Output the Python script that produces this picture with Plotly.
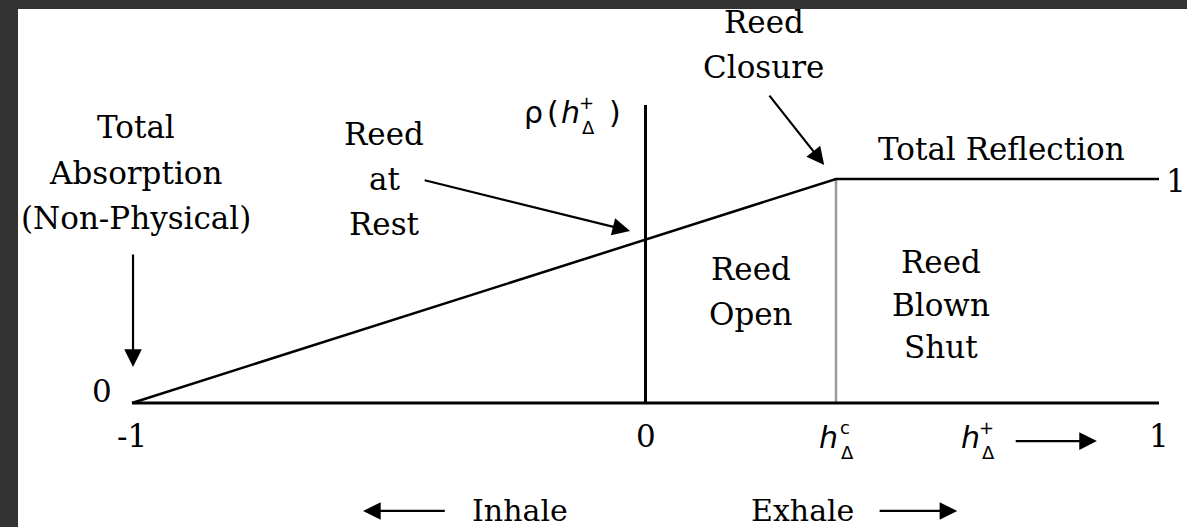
import plotly.graph_objects as go

# Reflection coefficient of the reed versus normalised pressure drop
H_CLOSE = 0.371                     # pressure drop at which the reed closes
RHO_X = [-1.0, H_CLOSE, 1.0]        # breakpoints of rho(h)
RHO_Y = [0.0, 1.0, 1.0]
AXIS_X = [-1.0, 1.0]                # horizontal axis extent
AXIS_Y_TOP = 1.33                   # top of the vertical axis at h = 0
TICK_X = [-1.0, 0.0, 1.0]
TICK_TEXT = ["-1", "0", "1"]

SERIF = "DejaVu Serif"
FS = 31

fig = go.Figure()

# closure boundary (grey)
fig.add_trace(go.Scatter(x=[H_CLOSE, H_CLOSE], y=[0, 1], mode="lines",
                         line=dict(color="#9a9a9a", width=2.5), hoverinfo="skip"))
# axes
fig.add_trace(go.Scatter(x=AXIS_X, y=[0, 0], mode="lines",
                         line=dict(color="black", width=3), hoverinfo="skip"))
fig.add_trace(go.Scatter(x=[0, 0], y=[0, AXIS_Y_TOP], mode="lines",
                         line=dict(color="black", width=3), hoverinfo="skip"))
# rho(h)
fig.add_trace(go.Scatter(x=RHO_X, y=RHO_Y, mode="lines",
                         line=dict(color="black", width=2.5), hoverinfo="skip"))

ann = []


def text(s, x, y, size=FS, family=SERIF, **kw):
    ann.append(dict(text=s, x=x, y=y, xref="x", yref="y", showarrow=False,
                    font=dict(family=family, size=size, color="black"),
                    xanchor="center", yanchor="middle", **kw))


def block(lines, x, y_top, step=0.196):
    for i, s in enumerate(lines):
        text(s, x, y_top - i * step)


def arrow(x0, y0, x1, y1):
    ann.append(dict(text="", x=x1, y=y1, ax=x0, ay=y0, xref="x", yref="y",
                    axref="x", ayref="y", showarrow=True, arrowhead=2,
                    arrowsize=1.6, arrowwidth=2.2, arrowcolor="black"))


# region labels
block(["Total", "Absorption", "(Non-Physical)"], -0.993, 1.232, 0.203)
block(["Reed", "at", "Rest"], -0.509, 1.201, 0.201)
block(["Reed", "Closure"], 0.230, 1.701, 0.201)
text("Total Reflection", 0.694, 1.134)
block(["Reed", "Open"], 0.205, 0.598, 0.201)
block(["Reed", "Blown", "Shut"], 0.575, 0.629, 0.190)
text("Inhale", -0.244, -0.478, size=30)
text("Exhale", 0.305, -0.478, size=30)

# tick labels
for tx, tt in zip(TICK_X, TICK_TEXT):
    text(tt, tx, -0.147)
text("0", -1.058, 0.054)
text("1", 1.033, 0.991)


# h with sub/superscripts
def hsym(x, y, sup, size=30):
    text("<i>h</i>", x, y, size=size, family="DejaVu Sans")
    text(sup, x + 0.032, y + 0.042, size=int(size * 0.62), family="DejaVu Sans")
    text("Δ", x + 0.036, y - 0.068, size=int(size * 0.6), family="DejaVu Sans")


hsym(H_CLOSE - 0.014, -0.152, "c")
hsym(0.632, -0.152, "+")

# vertical axis title rho(h)
text("ρ", -0.219, 1.299, size=30, family="DejaVu Sans")
text("(", -0.180, 1.299, size=30, family="DejaVu Sans")
hsym(-0.147, 1.299, "+")
text(")", -0.059, 1.299, size=30, family="DejaVu Sans")

# arrows
arrow(-0.998, 0.670, -0.998, 0.161)
arrow(-0.433, 0.996, -0.030, 0.768)
arrow(0.239, 1.379, 0.348, 1.0625)
arrow(0.718, -0.170, 0.879, -0.170)
arrow(-0.388, -0.482, -0.550, -0.482)
arrow(0.453, -0.482, 0.607, -0.482)

fig.update_layout(
    width=1187, height=527,
    margin=dict(l=18, r=0, t=9, b=0),
    paper_bgcolor="#333333", plot_bgcolor="white",
    showlegend=False, annotations=ann,
    xaxis=dict(range=[-1.222, 1.0545], visible=False, fixedrange=True),
    yaxis=dict(range=[-0.5536, 1.759], visible=False, fixedrange=True),
)

fig.write_html("out.html")
